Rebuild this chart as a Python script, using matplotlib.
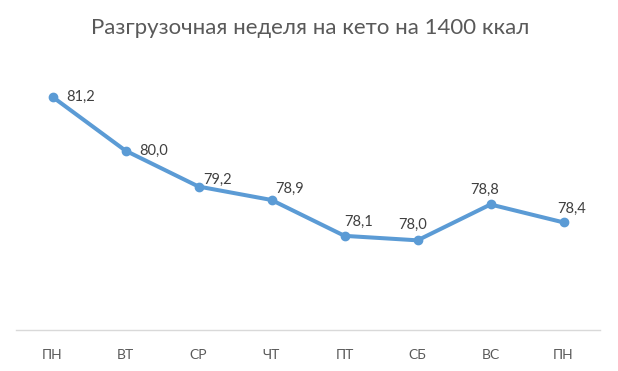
import matplotlib
matplotlib.use("Agg")
import matplotlib.pyplot as plt

plt.rcParams['font.family'] = ['Lato', 'DejaVu Sans']

title = "Разгрузочная неделя на кето на 1400 ккал"
days = ["ПН", "ВТ", "СР", "ЧТ", "ПТ", "СБ", "ВС", "ПН"]
weights = [81.2, 80.0, 79.2, 78.9, 78.1, 78.0, 78.8, 78.4]
labels = ["81,2", "80,0", "79,2", "78,9", "78,1", "78,0", "78,8", "78,4"]

# label offsets in pixels (dx, dy) - styling only
offsets = [(28, 0), (28, 0), (19, 7), (18, 11), (14, 14), (-5, 15), (-6, 15), (8, 14)]

fig = plt.figure(figsize=(6.18, 3.71), dpi=100)
ax = fig.add_axes([16/618, 41/371, 584/618, 269/371])

x = list(range(len(days)))
ax.plot(x, weights, color="#5B9BD5", linewidth=2.9, marker="o",
        markersize=6, markerfacecolor="#5B9BD5", markeredgecolor="#5B9BD5",
        solid_capstyle="round", zorder=3)

for xi, yi, lab, (dx, dy) in zip(x, weights, labels, offsets):
    ax.annotate(lab, (xi, yi), xytext=(dx, dy), textcoords="offset pixels",
                ha="center", va="center", fontsize=10.5, color="#404040")

ax.set_xlim(-0.5, len(days) - 0.5)
ax.set_ylim(76, 82)
ax.set_xticks(x)
ax.set_xticklabels(days, fontsize=10, color="#595959")
ax.tick_params(axis="x", length=0, pad=14)
ax.set_yticks([])
for s in ["left", "right", "top"]:
    ax.spines[s].set_visible(False)
ax.spines["bottom"].set_color("#D9D9D9")
ax.spines["bottom"].set_linewidth(1.0)

fig.text(310/618, 1 - 28/371, title, ha="center", va="center",
         fontsize=16, color="#595959")

fig.savefig("out.png", dpi=100)
